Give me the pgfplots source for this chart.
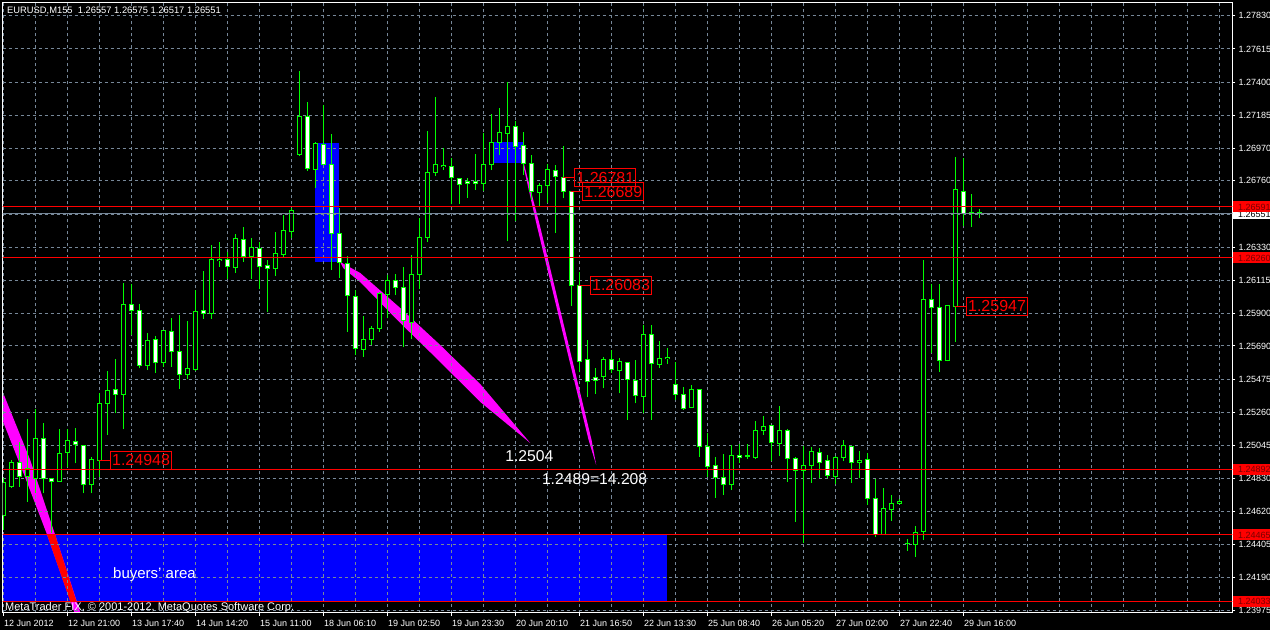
\documentclass[border=0pt]{standalone}
\usepackage{fontspec}
\setmainfont{Liberation Sans}
\usepackage{pgfplots}
\usepackage{pgfplotstable}
\pgfplotsset{compat=1.18}
\definecolor{cgreen}{RGB}{0,255,0}
\definecolor{gridc}{RGB}{119,136,153}
\definecolor{mtred}{RGB}{255,0,0}
\definecolor{darkred}{RGB}{120,0,0}
\definecolor{mtblue}{RGB}{0,0,255}
\definecolor{mtmag}{RGB}{255,0,255}
\newcommand{\fs}[1]{\fontsize{#1}{#1}\selectfont}

\pgfplotstableread{
x o h l c
0 1.24594 1.24834 1.24497 1.24808
1 1.24778 1.24951 1.24769 1.24936
3 1.24842 1.25216 1.24680 1.24897
4 1.24832 1.25279 1.24735 1.25091
7 1.24810 1.25150 1.24808 1.24994
8 1.24998 1.25150 1.24903 1.25076
11 1.24795 1.24972 1.24735 1.24951
12 1.24948 1.25383 1.24842 1.25314
13 1.25318 1.25528 1.25113 1.25404
15 1.25377 1.26098 1.25150 1.25960
18 1.25562 1.25772 1.25534 1.25727
20 1.25581 1.25793 1.25555 1.25787
23 1.25506 1.25852 1.25476 1.25545
24 1.25536 1.26052 1.25529 1.25914
26 1.25901 1.26344 1.25865 1.26251
27 1.26242 1.26365 1.26203 1.26251
29 1.26197 1.26415 1.26165 1.26388
31 1.26268 1.26388 1.26124 1.26329
34 1.26191 1.26426 1.26143 1.26286
35 1.26284 1.26539 1.26264 1.26441
36 1.26430 1.26584 1.26388 1.26571
37 1.26932 1.27472 1.26921 1.27180
39 1.26835 1.27014 1.26716 1.27003
45 1.25668 1.25884 1.25620 1.25733
46 1.25733 1.25819 1.25696 1.25804
47 1.25804 1.26041 1.25782 1.26031
48 1.26025 1.26150 1.25869 1.26113
51 1.25841 1.26279 1.25733 1.26154
52 1.26154 1.26517 1.26057 1.26394
53 1.26394 1.27083 1.26365 1.26815
54 1.26815 1.27305 1.26791 1.26867
55 1.26854 1.26971 1.26830 1.26861
60 1.26744 1.27068 1.26696 1.26867
61 1.26867 1.27193 1.26830 1.27010
62 1.27010 1.27230 1.26927 1.27075
63 1.27068 1.27399 1.26370 1.27115
67 1.26683 1.26748 1.26592 1.26733
68 1.26731 1.26869 1.26614 1.26835
75 1.25491 1.25620 1.25415 1.25599
77 1.25529 1.25610 1.25383 1.25592
80 1.25361 1.25826 1.25253 1.25765
82 1.25571 1.25722 1.25550 1.25610
83 1.25607 1.25675 1.25573 1.25614
86 1.25292 1.25437 1.25288 1.25409
91 1.24793 1.25048 1.24756 1.24977
93 1.24975 1.25054 1.24957 1.24979
94 1.24966 1.25204 1.24957 1.25139
95 1.25141 1.25236 1.25113 1.25171
97 1.25056 1.25301 1.24977 1.25139
100 1.24884 1.25043 1.24411 1.24916
101 1.24914 1.25037 1.24804 1.25009
104 1.24842 1.24975 1.24793 1.24968
105 1.24968 1.25080 1.24944 1.25046
107 1.24933 1.25009 1.24832 1.24949
110 1.24471 1.24767 1.24465 1.24638
111 1.24627 1.24722 1.24557 1.24670
112 1.24670 1.24696 1.24666 1.24685
113 1.24411 1.24437 1.24364 1.24412
114 1.24404 1.24523 1.24324 1.24482
115 1.24486 1.26247 1.24432 1.25992
118 1.25594 1.25955 1.25590 1.25949
119 1.25947 1.26913 1.25717 1.26701
121 1.26556 1.26675 1.26463 1.26557
}\bulltable

\pgfplotstableread{
x o h l c
2 1.24936 1.25069 1.24778 1.24842
5 1.25091 1.25189 1.24735 1.24828
6 1.24828 1.24834 1.24478 1.24810
9 1.25069 1.25156 1.24929 1.25048
10 1.25043 1.25043 1.24735 1.24795
14 1.25409 1.25605 1.25253 1.25377
16 1.25960 1.26091 1.25761 1.25918
17 1.25921 1.25962 1.25545 1.25562
19 1.25733 1.25754 1.25517 1.25581
21 1.25785 1.25869 1.25555 1.25653
22 1.25657 1.25890 1.25411 1.25506
25 1.25921 1.26176 1.25865 1.25901
28 1.26247 1.26301 1.26122 1.26208
30 1.26381 1.26459 1.26236 1.26268
32 1.26323 1.26362 1.26057 1.26203
33 1.26213 1.26247 1.25912 1.26191
38 1.27180 1.27273 1.26826 1.26841
40 1.26997 1.27252 1.26867 1.26867
41 1.26867 1.27064 1.26182 1.26420
42 1.26420 1.26582 1.26132 1.26232
43 1.26226 1.26273 1.25782 1.26016
44 1.26009 1.26052 1.25631 1.25675
49 1.26111 1.26156 1.26020 1.26067
50 1.26067 1.26200 1.25681 1.25852
56 1.26852 1.26906 1.26610 1.26783
57 1.26776 1.26776 1.26610 1.26738
58 1.26757 1.26780 1.26651 1.26744
59 1.26757 1.26934 1.26701 1.26744
64 1.27115 1.27148 1.26502 1.26981
65 1.26990 1.27075 1.26798 1.26874
66 1.26874 1.26927 1.26636 1.26690
69 1.26828 1.26863 1.26424 1.26787
70 1.26781 1.26986 1.26647 1.26690
71 1.26689 1.26689 1.25949 1.26083
72 1.26083 1.26167 1.25523 1.25588
73 1.25603 1.25728 1.25361 1.25458
74 1.25487 1.25545 1.25379 1.25465
76 1.25603 1.25664 1.25513 1.25539
78 1.25581 1.25581 1.25210 1.25474
79 1.25469 1.25599 1.25318 1.25372
81 1.25765 1.25826 1.25210 1.25573
84 1.25441 1.25583 1.25340 1.25377
85 1.25377 1.25422 1.25275 1.25286
87 1.25409 1.25409 1.24972 1.25037
88 1.25041 1.25124 1.24842 1.24907
89 1.24914 1.24968 1.24706 1.24836
90 1.24839 1.24990 1.24724 1.24793
92 1.24983 1.25054 1.24929 1.24968
96 1.25176 1.25176 1.24944 1.25063
98 1.25143 1.25154 1.24810 1.24959
99 1.24962 1.24972 1.24551 1.24884
102 1.25001 1.25026 1.24836 1.24933
103 1.24949 1.24983 1.24832 1.24849
106 1.25041 1.25041 1.24804 1.24933
108 1.24955 1.24998 1.24659 1.24700
109 1.24703 1.24826 1.24450 1.24465
116 1.25992 1.26091 1.25642 1.25940
117 1.25940 1.26091 1.25523 1.25594
120 1.26694 1.26906 1.26467 1.26550
122 1.26557 1.26575 1.26517 1.26551
}\beartable

\pgfplotsset{
  mtaxis/.style={scale only axis, width=1230pt, height=610pt,
    at={(2.5pt,17.5pt)}, anchor=south west,
    xmin=-0.125, xmax=153.625, ymin=1.239624, ymax=1.279158},
  cbar/.style 2 args={draw=none, fill=none, mark=none, mark size=0pt,
    error bars/.cd, y dir=plus, y explicit, error mark=none,
    error bar style={draw=#1, line width=#2, line cap=butt}},
}

\begin{document}
\begin{tikzpicture}
\useasboundingbox (0,0) rectangle (1270pt,630pt);
\fill[black] (0,0) rectangle (1270pt,630pt);

% 1: background objects
\begin{axis}[mtaxis, hide axis]
\addplot[fill=mtblue, draw=none] coordinates {(-1,1.24465) (82.96,1.24465) (82.96,1.24033) (-1,1.24033)} -- cycle;
\addplot[fill=mtblue, draw=none] coordinates {(38.96,1.27003) (41.96,1.27003) (41.96,1.26236) (38.96,1.26236)} -- cycle;
\addplot[fill=mtblue, draw=none] coordinates {(61.25,1.27014) (65,1.27014) (65,1.26878) (61.25,1.26878)} -- cycle;
\addplot[fill=mtmag, draw=none] coordinates {(42.09,1.26234) (44.59,1.26163) (49.59,1.25936) (54.59,1.25696) (59.59,1.25443) (65.84,1.25061) (59.59,1.25327) (54.59,1.25586) (49.59,1.25839) (44.59,1.26104) (42.46,1.26195)} -- cycle;
\addplot[fill=mtmag, draw=none] coordinates {(64.90,1.26876) (66.65,1.26474) (73.14,1.25080) (74.09,1.24918) (73.51,1.25080) (67.03,1.26474) (65.03,1.26876)} -- cycle;
\addplot[fill=mtmag, draw=none] coordinates {(-1.0375,1.25502) (-0.0375,1.25385) (3.3375,1.24951) (6.4625,1.24465) (9.91,1.23914) (9.1875,1.23914) (5.4625,1.24465) (2.5875,1.24854) (-0.0375,1.25197) (-1.0375,1.25307)} -- cycle;
\addplot[fill=mtred, draw=none] coordinates {(5.4625,1.24465) (6.4625,1.24465) (9.1375,1.24033) (8.35,1.24033)} -- cycle;
\end{axis}

% 2: frame, grid, ticks
\begin{axis}[mtaxis,
  axis line style={white, line width=1pt},
  xtick={0,8,...,120},
  xticklabels={12 Jun 2012,12 Jun 21:00,13 Jun 17:40,14 Jun 14:20,15 Jun 11:00,18 Jun 06:10,19 Jun 02:50,19 Jun 23:30,20 Jun 20:10,21 Jun 16:50,22 Jun 13:30,25 Jun 08:40,26 Jun 05:20,27 Jun 02:00,27 Jun 22:40,29 Jun 16:00},
  minor xtick={0,4,...,152},
  ytick={1.23975,1.24190,1.24405,1.24620,1.24830,1.25045,1.25260,1.25475,1.25690,1.25900,1.26115,1.26330,1.26760,1.26970,1.27185,1.27400,1.27615,1.27830},
  yticklabels={1.23975,1.24190,1.24405,1.24620,1.24830,1.25045,1.25260,1.25475,1.25690,1.25900,1.26115,1.26330,1.26760,1.26970,1.27185,1.27400,1.27615,1.27830},
  minor ytick={1.26545},
  grid=both,
  major grid style={gridc, dash pattern=on 3pt off 3pt, line width=1pt},
  minor grid style={gridc, dash pattern=on 3pt off 3pt, line width=1pt},
  tick align=outside, major tick length=3pt, minor tick length=0pt,
  xtick pos=bottom, ytick pos=right, yticklabel pos=right,
  tick style={white, line width=1pt},
  xticklabel style={anchor=base west, inner sep=0pt, xshift=0.5pt, yshift=-11pt, font=\fs{9}, text=white},
  yticklabel style={anchor=west, inner sep=0pt, xshift=3pt, font=\fs{9}, text=white},
]
\addplot[draw=none, mark=none] coordinates {(0,1.25) (1,1.25)};
\end{axis}

% 3: candles, lines, labels
\begin{axis}[mtaxis, hide axis]
% wicks (low to high)
\addplot[cbar={cgreen}{1pt}] table[x=x, y=l, y error plus expr={\thisrow{h}-\thisrow{l}}] {\bulltable};
\addplot[cbar={cgreen}{1pt}] table[x=x, y=l, y error plus expr={\thisrow{h}-\thisrow{l}}] {\beartable};
% bodies: green outline, then fill
\addplot[cbar={cgreen}{5pt}] table[x=x, y expr={min(\thisrow{o},\thisrow{c})-0.0000324}, y error plus expr={abs(\thisrow{o}-\thisrow{c})+0.0000648}] {\bulltable};
\addplot[cbar={cgreen}{5pt}] table[x=x, y expr={min(\thisrow{o},\thisrow{c})-0.0000324}, y error plus expr={abs(\thisrow{o}-\thisrow{c})+0.0000648}] {\beartable};
\addplot[cbar={black}{3pt}] table[x=x, y expr={min(\thisrow{o},\thisrow{c})+0.0000324}, y error plus expr={max(abs(\thisrow{o}-\thisrow{c})-0.0000648,0)}] {\bulltable};
\addplot[cbar={white}{3pt}] table[x=x, y expr={min(\thisrow{o},\thisrow{c})+0.0000324}, y error plus expr={max(abs(\thisrow{o}-\thisrow{c})-0.0000648,0)}] {\beartable};

\addplot[gridc, line width=1pt, mark=none] coordinates {(-2,1.26551) (160,1.26551)};
\addplot[mtred, line width=1pt, mark=none] coordinates {(-2,1.26591) (160,1.26591)};
\addplot[mtred, line width=1pt, mark=none] coordinates {(-2,1.26260) (160,1.26260)};
\addplot[mtred, line width=1pt, mark=none] coordinates {(-2,1.24892) (160,1.24892)};
\addplot[mtred, line width=1pt, mark=none] coordinates {(-2,1.24465) (160,1.24465)};
\addplot[mtred, line width=1pt, mark=none] coordinates {(-2,1.24033) (160,1.24033)};

\addplot[mtred, line width=1pt, mark=none] coordinates {(12,1.24948) (13.34,1.24948)};
\addplot[mtred, line width=1pt, mark=none] coordinates {(70,1.26781) (71.375,1.26781)};
\addplot[mtred, line width=1pt, mark=none] coordinates {(71,1.26689) (72.375,1.26689)};
\addplot[mtred, line width=1pt, mark=none] coordinates {(72,1.26083) (73.34,1.26083)};
\addplot[mtred, line width=1pt, mark=none] coordinates {(119,1.25947) (120.34,1.25947)};

\tikzset{pbox/.style={draw=mtred, line width=1pt, text=mtred, font=\fs{16}, minimum width=60.7pt, minimum height=18pt, inner sep=0pt, anchor=west}}
\node[pbox] at (axis cs:13.34,1.24948) {1.24948};
\node[pbox] at (axis cs:71.375,1.26781) {1.26781};
\node[pbox] at (axis cs:72.375,1.26689) {1.26689};
\node[pbox] at (axis cs:73.34,1.26083) {1.26083};
\node[pbox] at (axis cs:120.34,1.25947) {1.25947};

\node[text=white, font=\fs{15.7}, anchor=base west, inner sep=0pt] at (axis cs:62.71,1.24940) {1.2504};
\node[text=white, font=\fs{15.7}, anchor=base west, inner sep=0pt] at (axis cs:67.29,1.24793) {1.2489=14.208};
\node[text=white, font=\fs{15}, anchor=base, inner sep=0pt] at (axis cs:18.875,1.24186) {buyers' area};

\coordinate (Lbid) at (axis cs:153.625,1.26551);
\coordinate (L1) at (axis cs:153.625,1.26591);
\coordinate (L2) at (axis cs:153.625,1.26260);
\coordinate (L3) at (axis cs:153.625,1.24892);
\coordinate (L4) at (axis cs:153.625,1.24465);
\coordinate (L5) at (axis cs:153.625,1.24033);
\end{axis}

\tikzset{rlab/.style={fill=mtred, text=darkred, anchor=west, inner xsep=5pt, inner ysep=0pt, minimum height=11pt, font=\fs{9}}}
\node[fill=white, text=black, anchor=west, inner xsep=5pt, inner ysep=0pt, minimum height=10pt, font=\fs{9}] at ([xshift=0.5pt,yshift=-1pt]Lbid) {1.26551};
\node[rlab] at ([xshift=0.5pt]L1) {1.26591};
\node[rlab] at ([xshift=0.5pt]L2) {1.26260};
\node[rlab] at ([xshift=0.5pt]L3) {1.24892};
\node[rlab] at ([xshift=0.5pt]L4) {1.24465};
\node[rlab] at ([xshift=0.5pt]L5) {1.24033};

\node[text=white, font=\fs{9.35}, anchor=base west, inner sep=0pt] at (7pt,616.3pt) {EURUSD,M155~ 1.26557 1.26575 1.26517 1.26551};
\node[text=white, font=\fs{11}, anchor=base west, inner sep=0pt] at (5pt,20pt) {MetaTrader FIX, © 2001-2012, MetaQuotes Software Corp.};
\end{tikzpicture}
\end{document}
